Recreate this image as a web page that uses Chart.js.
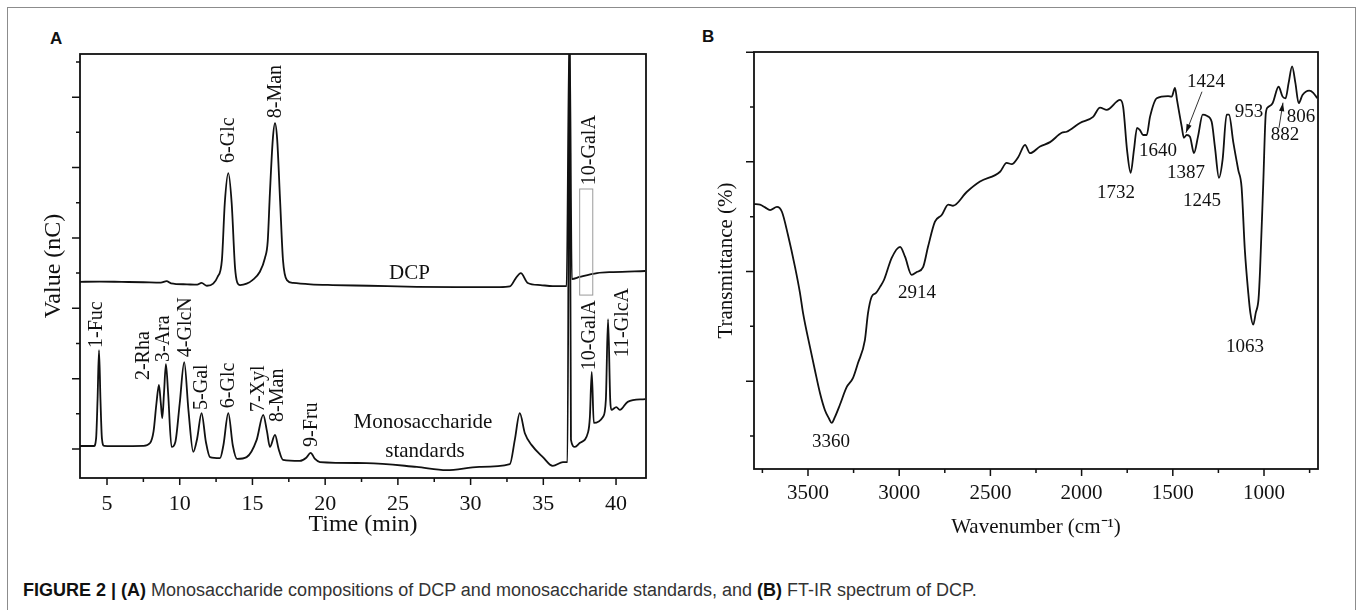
<!DOCTYPE html>
<html>
<head>
<meta charset="utf-8">
<script src="https://cdn.jsdelivr.net/npm/chart.js@4.4.1/dist/chart.umd.min.js"></script>
<style>
  html, body { margin: 0; padding: 0; background: #fff; }
  body { width: 1357px; height: 610px; position: relative; overflow: hidden; }
  .frame { position: absolute; left: 7px; top: 7px; width: 1349px; height: 700px; box-sizing: border-box;
           border: 1.5px solid #8c8c8c; border-bottom: none; }
  canvas { position: absolute; top: 0; }
  #chartA { left: 0; }
  #chartB { left: 680px; }
  .panel { position: absolute; font: bold 17px/17px 'Liberation Sans', Arial, sans-serif; color: #111; }
  .caption { position: absolute; left: 23px; top: 580px; font: 18px/20px 'Liberation Sans', Arial, sans-serif;
             color: #333; white-space: nowrap; }
  .caption b { color: #111; }
</style>
</head>
<body>
<div class="frame"></div>
<div class="panel" style="left:50px; top:30px;">A</div>
<div class="panel" style="left:702px; top:28px;">B</div>
<canvas id="chartA" width="680" height="550"></canvas>
<canvas id="chartB" width="677" height="550"></canvas>
<div class="caption"><b>FIGURE 2 | (A)</b> Monosaccharide compositions of DCP and monosaccharide standards, and <b>(B)</b> FT-IR spectrum of DCP.</div>
<script>
// ---- panel A: ion chromatograms (time in min, response in tick units) ----
const dcpTime = [3.0, 4.5, 6.0, 7.5, 8.7, 9.1, 9.4, 10.5, 11.2, 11.5, 11.87, 12.3, 12.6, 12.9, 13.1, 13.34, 13.57,
  13.8, 13.95, 14.15, 14.6, 15.0, 15.5, 15.86, 16.05, 16.2, 16.4, 16.55, 16.7, 16.9, 17.1, 17.37, 17.8, 19.0,
  20.5, 23.0, 26.3, 29.0, 32.0, 32.7, 33.1, 33.45, 33.93, 34.8, 35.65, 36.6, 36.8, 36.96, 37.5, 38.7, 39.8, 42.0];
const dcpValue = [5.75, 5.76, 5.75, 5.74, 5.73, 5.77, 5.71, 5.68, 5.67, 5.72, 5.64, 5.70, 5.89, 6.37, 8.0, 8.84, 8.0,
  6.17, 5.74, 5.66, 5.70, 5.80, 6.03, 6.43, 6.9, 8.27, 9.8, 10.26, 9.8, 8.07, 6.37, 5.8, 5.72, 5.68,
  5.66, 5.64, 5.61, 5.60, 5.60, 5.62, 5.85, 6.0, 5.72, 5.66, 5.63, 5.63, 13.0, 5.83, 5.89, 6.0, 6.03, 6.06];

const stdTime = [3.0, 4.1, 4.25, 4.35, 4.45, 4.55, 4.65, 4.8, 6.0, 7.5, 7.96, 8.2, 8.4, 8.57, 8.7, 8.8, 8.92, 9.05,
  9.2, 9.44, 9.7, 10.0, 10.31, 10.6, 10.93, 11.2, 11.5, 11.8, 12.08, 12.77, 13.0, 13.34, 13.65, 13.94, 14.6,
  15.29, 15.74, 16.0, 16.2, 16.55, 16.8, 17.1, 18.26, 18.7, 19.0, 19.3, 19.64, 22.85, 26.3, 28.35, 30.6, 32.7,
  33.04, 33.38, 33.73, 34.2, 34.97, 35.65, 36.35, 36.66, 36.8, 36.9, 37.17, 37.5, 38.08, 38.2, 38.33, 38.47,
  39.1, 39.3, 39.45, 39.6, 39.68, 40.02, 40.26, 40.8, 42.0];
const stdValue = [1.085, 1.085, 1.3, 2.4, 3.81, 2.4, 1.3, 1.09, 1.08, 1.09, 1.17, 1.5, 2.3, 2.82, 2.3, 1.88, 2.6, 3.41,
  2.6, 1.06, 1.2, 2.3, 3.47, 2.1, 0.92, 1.3, 2.02, 1.2, 0.77, 0.74, 1.1, 2.02, 1.1, 0.72, 0.77,
  1.26, 1.97, 1.5, 1.06, 1.40, 1.0, 0.69, 0.66, 0.75, 0.89, 0.72, 0.63, 0.60, 0.49, 0.40, 0.49, 0.57,
  1.26, 2.02, 1.45, 1.11, 0.77, 0.52, 0.63, 0.63, 13.0, 1.26, 1.06, 1.17, 1.48, 1.9, 3.19, 1.74,
  1.91, 2.4, 4.69, 2.4, 2.11, 2.19, 2.11, 2.34, 2.42];

const timeTicks = [5, 10, 15, 20, 25, 30, 35, 40];
const timeMinor = [7.5, 12.5, 17.5, 22.5, 27.5, 32.5, 37.5];
const valueTicks = [1, 3, 5, 7, 9, 11];
const valueMinor = [2, 4, 6, 8, 10, 12];

// ---- panel B: FT-IR spectrum ----
const waveNumber = [3796, 3763, 3735, 3708, 3670, 3643, 3610, 3571, 3544, 3527, 3489, 3462, 3434, 3407, 3385, 3370,
  3352, 3325, 3288, 3253, 3226, 3188, 3171, 3151, 3127, 3105, 3083, 3041, 2995, 2968, 2932, 2904, 2869, 2842,
  2804, 2767, 2731, 2705, 2630, 2557, 2447, 2411, 2383, 2347, 2310, 2283, 2228, 2173, 2109, 2082, 2009, 1937,
  1899, 1862, 1789, 1772, 1751, 1731, 1713, 1696, 1680, 1663, 1643, 1625, 1588, 1526, 1506, 1488, 1477, 1451,
  1439, 1424, 1406, 1384, 1362, 1336, 1314, 1287, 1269, 1247, 1227, 1205, 1192, 1168, 1141, 1123, 1105, 1086,
  1075, 1059, 1045, 1030, 1022, 1004, 990, 977, 953, 920, 898, 882, 865, 846, 828, 810, 789, 752, 730, 708];
const transmittance = [5.23, 5.22, 5.17, 5.12, 5.18, 5.09, 4.67, 4.08, 3.61, 3.24, 2.62, 2.2, 1.78, 1.47, 1.32, 1.24,
  1.35, 1.57, 1.89, 2.06, 2.33, 2.75, 3.24, 3.54, 3.61, 3.72, 3.85, 4.25, 4.45, 4.27, 3.94, 3.99, 4.08, 4.45,
  4.91, 5.03, 5.22, 5.20, 5.45, 5.64, 5.82, 5.98, 5.96, 6.09, 6.31, 6.16, 6.28, 6.36, 6.53, 6.55, 6.71, 6.82,
  6.99, 6.95, 7.13, 7.0, 6.22, 5.80, 6.22, 6.62, 6.58, 6.49, 6.49, 6.82, 7.16, 7.2, 7.19, 7.35, 7.13, 6.64,
  6.44, 6.49, 6.46, 6.16, 6.46, 6.86, 6.84, 6.73, 6.27, 5.71, 6.04, 6.86, 6.86, 6.35, 5.85, 5.54, 4.39, 3.6,
  3.25, 3.03, 3.25, 3.5, 4.0, 5.62, 6.89, 7.0, 7.07, 7.37, 7.19, 7.16, 7.44, 7.74, 7.44, 7.07, 7.22, 7.3, 7.26, 7.16];

const waveTicks = [3500, 3000, 2500, 2000, 1500, 1000];
const waveMinor = [3750, 3250, 2750, 2250, 1750, 1250, 750];
const transTicks = [2, 4, 6, 8];
const transMinor = [1, 3, 5, 7];

// annotation text, anchored in data units: [text, x, y, vertical]
const labelsA = [
  ['6-Glc', 13.38, 9.13, true], ['8-Man', 16.6, 10.4, true],
  ['1-Fuc', 4.31, 3.87, true], ['2-Rha', 7.54, 2.96, true], ['3-Ara', 8.92, 3.47, true],
  ['4-GlcN', 10.43, 3.61, true], ['5-Gal', 11.53, 2.11, true], ['6-Glc', 13.38, 2.16, true],
  ['7-Xyl', 15.45, 2.05, true], ['8-Man', 16.75, 1.77, true], ['9-Fru', 19.1, 1.06, true],
  ['10-GalA', 38.2, 3.24, true], ['11-GlcA', 40.46, 3.61, true], ['10-GalA', 38.2, 8.5, true]
];
const textA = [['DCP', 25.8, 6.0], ['Monosaccharide', 26.72, 1.74], ['standards', 26.86, 0.94]];
const labelsB = [
  ['3360', 3374, 0.89], ['2914', 2902, 3.61], ['1732', 1811, 5.43], ['1640', 1581, 6.2],
  ['1424', 1318, 7.46], ['1387', 1428, 5.8], ['1245', 1340, 5.29], ['953', 1082, 6.91],
  ['882', 885, 6.49], ['806', 797, 6.82], ['1063', 1104, 2.62]
];
// arrows: [fromX, fromY, toX, toY]
const arrowsB = [[1340, 7.28, 1428, 6.53], [918, 6.62, 896, 7.08]];

const serif = "'Liberation Serif', 'Times New Roman', serif";

function pairs(xs, ys) { return xs.map((x, i) => ({ x, y: ys[i] })); }

function frameTicks(o) {
  return {
    id: 'frameTicks',
    afterDatasetsDraw(chart) {
      const { ctx, chartArea: a, scales: { x, y } } = chart;
      ctx.save();
      ctx.strokeStyle = '#111';
      ctx.lineWidth = 1.8;
      ctx.strokeRect(a.left, a.top, a.right - a.left, a.bottom - a.top);
      ctx.lineWidth = 1.5;
      ctx.beginPath();
      o.xMajor.forEach(v => { const p = x.getPixelForValue(v); ctx.moveTo(p, a.bottom); ctx.lineTo(p, a.bottom + 7); });
      o.xMinor.forEach(v => { const p = x.getPixelForValue(v); ctx.moveTo(p, a.bottom); ctx.lineTo(p, a.bottom + 4); });
      o.yMajor.forEach(v => { const p = y.getPixelForValue(v); ctx.moveTo(a.left, p); ctx.lineTo(a.left - 8, p); });
      o.yMinor.forEach(v => { const p = y.getPixelForValue(v); ctx.moveTo(a.left, p); ctx.lineTo(a.left - 4, p); });
      ctx.stroke();

      ctx.fillStyle = '#111';
      ctx.textBaseline = 'middle';
      (o.texts || []).forEach(group => {
        ctx.font = group.font;
        group.items.forEach(([t, vx, vy, vert]) => {
          ctx.save();
          ctx.translate(x.getPixelForValue(vx), y.getPixelForValue(vy));
          if (vert) { ctx.rotate(-Math.PI / 2); ctx.textAlign = 'left'; } else ctx.textAlign = 'center';
          ctx.fillText(t, 0, 0);
          ctx.restore();
        });
      });

      if (o.box) {
        const [x0, y0, x1, y1] = o.box;
        ctx.strokeStyle = '#9a9a9a';
        ctx.lineWidth = 1;
        const l = x.getPixelForValue(x0), t = y.getPixelForValue(y0);
        ctx.strokeRect(l, t, x.getPixelForValue(x1) - l, y.getPixelForValue(y1) - t);
      }

      (o.arrows || []).forEach(([fx, fy, tx, ty]) => {
        const x0 = x.getPixelForValue(fx), y0 = y.getPixelForValue(fy);
        const x1 = x.getPixelForValue(tx), y1 = y.getPixelForValue(ty);
        const ang = Math.atan2(y1 - y0, x1 - x0);
        ctx.strokeStyle = '#333';
        ctx.lineWidth = 1;
        ctx.beginPath(); ctx.moveTo(x0, y0); ctx.lineTo(x1, y1); ctx.stroke();
        ctx.fillStyle = '#111';
        ctx.beginPath();
        ctx.moveTo(x1, y1);
        ctx.lineTo(x1 - 9 * Math.cos(ang - 0.3), y1 - 9 * Math.sin(ang - 0.3));
        ctx.lineTo(x1 - 9 * Math.cos(ang + 0.3), y1 - 9 * Math.sin(ang + 0.3));
        ctx.closePath(); ctx.fill();
      });
      ctx.restore();
    }
  };
}

function lineSet(data) {
  return { data, borderColor: '#111', borderWidth: 1.8, pointRadius: 0, cubicInterpolationMode: 'monotone', fill: false };
}

function makeChart(id, cfg) {
  return new Chart(document.getElementById(id), {
    type: 'line',
    data: { datasets: cfg.datasets.map(lineSet) },
    options: {
      responsive: false,
      animation: false,
      devicePixelRatio: 1,
      layout: { padding: cfg.padding },
      plugins: { legend: { display: false }, tooltip: { enabled: false } },
      scales: {
        x: {
          type: 'linear', min: cfg.xMin, max: cfg.xMax, reverse: !!cfg.reverse,
          grid: { display: false, drawTicks: false }, border: { display: false },
          afterBuildTicks: s => { s.ticks = cfg.xMajor.map(v => ({ value: v })); },
          afterFit: s => { s.height = cfg.xHeight; },
          ticks: { autoSkip: false, maxRotation: 0, padding: cfg.tickPad, color: '#111',
                   callback: v => String(v),
                   font: { family: serif, size: cfg.tickSize } },
          title: { display: true, text: cfg.xTitle, color: '#111', padding: { top: 0, bottom: cfg.xTitlePad },
                   font: { family: serif, size: cfg.titleSize } }
        },
        y: {
          min: cfg.yMin, max: cfg.yMax,
          grid: { display: false, drawTicks: false }, border: { display: false },
          afterBuildTicks: s => { s.ticks = cfg.yMajor.map(v => ({ value: v })); },
          afterFit: s => { s.width = cfg.yWidth; },
          ticks: { display: false },
          title: { display: true, text: cfg.yTitle, color: '#111', padding: { top: cfg.yTitlePad, bottom: 0 },
                   font: { family: serif, size: cfg.titleSize } }
        }
      }
    },
    plugins: [frameTicks(cfg)]
  });
}

makeChart('chartA', {
  datasets: [pairs(dcpTime, dcpValue), pairs(stdTime, stdValue)],
  padding: { left: 0, top: 54, right: 34, bottom: 0 },
  xMin: 3.143, xMax: 42.06, yMin: 0.176, yMax: 12.227,
  xMajor: timeTicks, xMinor: timeMinor, yMajor: valueTicks, yMinor: valueMinor,
  xHeight: 72, yWidth: 80, tickPad: 12.8, tickSize: 22, titleSize: 24,
  xTitle: 'Time (min)', xTitlePad: 10.6, yTitle: 'Value (nC)', yTitlePad: 39.6,
  texts: [
    { font: '20px ' + serif, items: labelsA },
    { font: '21px ' + serif, items: textA }
  ],
  box: [37.5, 8.39, 38.4, 5.375]
});

makeChart('chartB', {
  datasets: [pairs(waveNumber, transmittance)],
  padding: { left: 0, top: 52, right: 39, bottom: 0 },
  xMin: 704, xMax: 3796, reverse: true, yMin: 0.398, yMax: 8.004,
  xMajor: waveTicks, xMinor: waveMinor, yMajor: transTicks, yMinor: transMinor,
  xHeight: 81, yWidth: 74, tickPad: 11.4, tickSize: 21, titleSize: 21,
  xTitle: 'Wavenumber (cm\u207B\u00B9)', xTitlePad: 10.4, yTitle: 'Transmittance (%)', yTitlePad: 33.8,
  texts: [{ font: '19px ' + serif, items: labelsB }],
  arrows: arrowsB
});
</script>
</body>
</html>
